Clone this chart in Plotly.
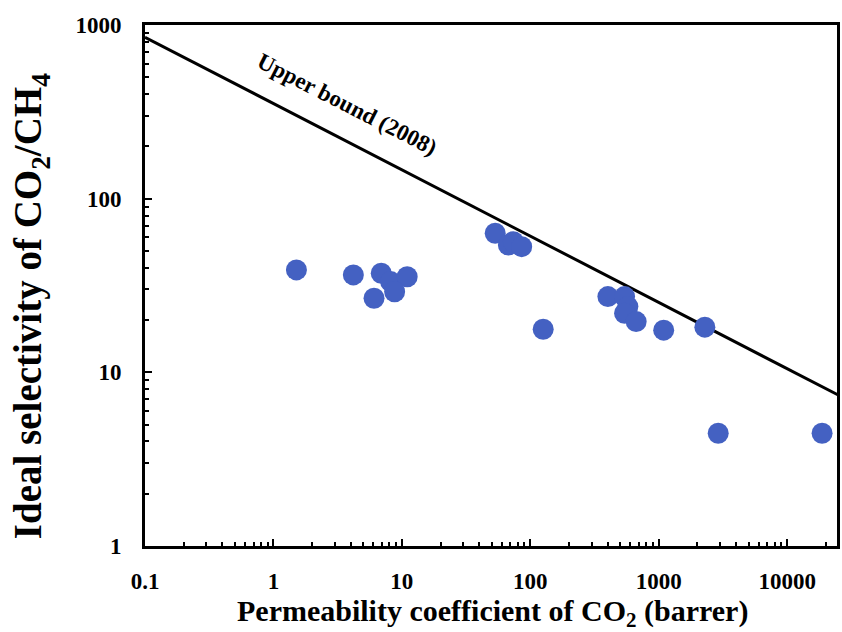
import plotly.graph_objects as go

# Data
perm_co2 = [1.51, 4.19, 6.91, 8.17, 11.0, 8.78, 6.07,
            53.3, 67.5, 73.8, 85.7, 126,
            402, 542, 575, 542, 667, 1093, 2286, 2904, 18700]
selectivity = [38.9, 36.4, 37.2, 33.3, 35.5, 29.1, 26.7,
               63.2, 54.1, 56.5, 52.9, 17.7,
               27.3, 27.3, 23.9, 21.9, 19.6, 17.5, 18.2, 4.46, 4.46]

upper_x = [0.1, 30000]
upper_y = [850, 6.9]

x_tickvals = [0.1, 1, 10, 100, 1000, 10000]
x_ticktext = ["0.1", "1", "10", "100", "1000", "10000"]
y_tickvals = [1, 10, 100, 1000]
y_ticktext = ["1", "10", "100", "1000"]

x_minor = [m * d for d in [0.1, 1, 10, 100, 1000, 10000] for m in range(2, 10)]
y_minor = [m * d for d in [1, 10, 100] for m in range(2, 10)]

FONT = "Liberation Serif"
marker_color = "#4461C2"

fig = go.Figure()
fig.add_trace(go.Scatter(x=upper_x, y=upper_y, mode="lines",
                         line=dict(color="black", width=3), showlegend=False))
fig.add_trace(go.Scatter(x=perm_co2, y=selectivity, mode="markers",
                         marker=dict(color=marker_color, size=21, line=dict(width=0)),
                         showlegend=False, cliponaxis=False))

axis_common = dict(showline=True, linecolor="black", linewidth=3, mirror=True,
                   showgrid=False, zeroline=False, ticks="inside", ticklen=7,
                   tickwidth=2, tickcolor="black",
                   tickfont=dict(family=FONT, size=23, color="black", weight="bold"))

fig.update_xaxes(type="log", range=[-1, 4.388], tickvals=x_tickvals, ticktext=x_ticktext,
                 ticklabelstandoff=12,
                 minor=dict(tickvals=x_minor, ticks="inside", ticklen=4, tickwidth=1.5,
                            tickcolor="black", showgrid=False),
                 **axis_common)
fig.update_yaxes(type="log", range=[0, 3], tickvals=y_tickvals, ticktext=y_ticktext,
                 ticklabelstandoff=16,
                 minor=dict(tickvals=y_minor, ticks="inside", ticklen=4, tickwidth=1.5,
                            tickcolor="black", showgrid=False),
                 **axis_common)

fig.add_annotation(text="Upper bound (2008)", x=0.574, y=2.54, xref="x", yref="y",
                   showarrow=False, textangle=27,
                   font=dict(family=FONT, size=23, color="black", weight="bold"))
fig.add_annotation(text="Permeability coefficient of CO<sub>2</sub> (barrer)",
                   x=0.502, y=-0.129, xref="paper", yref="paper", showarrow=False,
                   xanchor="center", yanchor="middle",
                   font=dict(family=FONT, size=30, color="black", weight="bold"))
fig.add_annotation(text="Ideal selectivity of CO<sub>2</sub>/CH<sub>4</sub>",
                   x=-0.165, y=0.46, xref="paper", yref="paper", showarrow=False,
                   xanchor="center", yanchor="middle", textangle=-90,
                   font=dict(family=FONT, size=39, color="black", weight="bold"))

fig.update_layout(width=842, height=632, margin=dict(l=145, r=2, t=25, b=86),
                  plot_bgcolor="white", paper_bgcolor="white")

fig.write_html("out.html")
